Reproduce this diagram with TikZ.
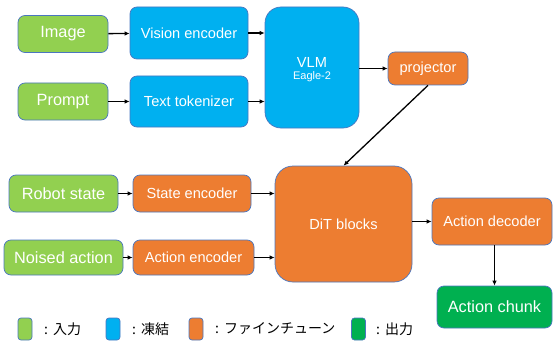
\documentclass[tikz,border=0pt]{standalone}
\usepackage{fontspec}
\setmainfont{Liberation Sans}
\newfontfamily\jpfont{Noto Sans CJK JP}
\usetikzlibrary{arrows.meta}

\definecolor{inputgreen}{HTML}{92D050}
\definecolor{frozenblue}{HTML}{00B0F0}
\definecolor{tuneorange}{HTML}{ED7D31}
\definecolor{outgreen}{HTML}{00B050}
\definecolor{edgeblue}{HTML}{4A76C0}

\tikzset{
  box/.style={draw=edgeblue, line width=0.7pt, rounded corners=7pt,
    inner sep=0pt, text=white, font=\fontsize{14.6}{16}\selectfont},
  bigtext/.style={font=\fontsize{16.3}{18}\selectfont},
  inbox/.style={box, fill=inputgreen, bigtext},
  frozen/.style={box, fill=frozenblue},
  tune/.style={box, fill=tuneorange},
  outbox/.style={box, fill=outgreen, bigtext},
  arr/.style={-{Latex[length=5pt,width=4.5pt]}, line width=1.3pt, black},
  key/.style={draw=edgeblue, line width=0.7pt, rounded corners=3pt,
    minimum width=14pt, minimum height=22pt, inner sep=0pt},
  keytext/.style={anchor=west, inner sep=0pt, font=\jpfont\fontsize{14}{16}\selectfont}
}

\begin{document}
\begin{tikzpicture}[x=1pt, y=-1pt]
\useasboundingbox (0,0) rectangle (553,342);

% inputs and frozen vision-language branch
\node[inbox, minimum width=90pt, minimum height=37pt] (img) at (63,34) {Image};
\node[inbox, minimum width=90pt, minimum height=37pt] (prompt) at (63,101.5) {Prompt};
\node[frozen, minimum width=118pt, minimum height=52pt] (venc) at (189,33) {Vision encoder};
\node[frozen, minimum width=118pt, minimum height=51pt] (ttok) at (189,101.5) {Text tokenizer};
\node[frozen, rounded corners=16pt, minimum width=94pt, minimum height=121pt] (vlm) at (312,67.5) {};
\node[text=white, font=\fontsize{14.6}{16}\selectfont, inner sep=0pt] (vlmname) at (312,62) {VLM};
\node[text=white, font=\fontsize{11}{13}\selectfont, inner sep=0pt] (vlmsub) at (312,77) {Eagle-2};
\node[tune, minimum width=80pt, minimum height=33pt] (proj) at (428,68.5) {projector};

% action branch
\node[inbox, minimum width=109pt, minimum height=37pt] (robot) at (63.5,193.5) {Robot state};
\node[inbox, minimum width=119pt, minimum height=35pt] (noised) at (63.5,257.5) {Noised action};
\node[tune, minimum width=118pt, minimum height=37pt] (senc) at (192,193.5) {State encoder};
\node[tune, minimum width=121pt, minimum height=35pt] (aenc) at (193.5,257.5) {Action encoder};
\node[tune, rounded corners=18pt, minimum width=137pt, minimum height=116pt] (dit) at (343.5,224) {DiT blocks};
\node[tune, minimum width=120pt, minimum height=47pt] (dec) at (492,221.5) {Action decoder};
\node[outbox, minimum width=115pt, minimum height=42pt] (chunk) at (494.5,307) {Action chunk};

% connectors
\draw[arr] (img) -- (venc);
\draw[arr] (prompt) -- (ttok);
\draw[arr] (venc.east) -- (venc.east -| vlm.west);
\draw[arr] (ttok.east) -- (ttok.east -| vlm.west);
\draw[arr] (proj.west -| vlm.east) -- (proj.west);
\draw[arr] (proj.south) -- (dit.north);
\draw[arr] (robot) -- (senc);
\draw[arr] (noised) -- (aenc);
\draw[arr] (senc.east) -- (senc.east -| dit.west);
\draw[arr] (aenc.east) -- (aenc.east -| dit.west);
\draw[arr] (dec.west -| dit.east) -- (dec.west);
\draw[arr] (chunk.north |- dec.south) -- (chunk.north);

% legend
\node[key, fill=inputgreen] (k1) at (25,329) {};
\node[keytext] (t1) at (44,329) {:\hspace{5pt}入力};
\node[key, fill=frozenblue] (k2) at (113,329) {};
\node[keytext] (t2) at (132,329) {:\hspace{5pt}凍結};
\node[key, fill=tuneorange] (k3) at (196,329) {};
\node[keytext] (t3) at (215,329) {:\hspace{5pt}ファインチューン};
\node[key, fill=outgreen] (k4) at (358.5,329) {};
\node[keytext] (t4) at (376,329) {:\hspace{5pt}出力};
\end{tikzpicture}
\end{document}
